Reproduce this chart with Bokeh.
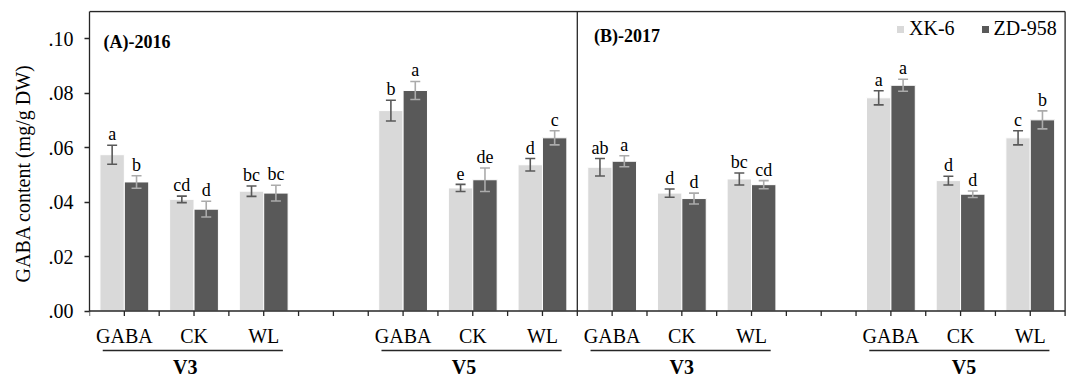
import numpy as np
from bokeh.plotting import figure
from bokeh.models import (Range1d, FixedTicker, CustomJSTickFormatter, Title,
                          Legend, LegendItem, ColumnDataSource)
from bokeh.core.properties import value
from bokeh.embed import file_html
from bokeh.resources import INLINE

# ---------------- data ----------------
years = ["(A)-2016", "(B)-2017"]
stages = ["V3", "V5"]
treatments = ["GABA", "CK", "WL"]
cultivars = ["XK-6", "ZD-958"]

# order: year -> stage -> treatment
xk6_mean = [0.0574, 0.0410, 0.0440, 0.0736, 0.0452, 0.0537,
            0.0528, 0.0433, 0.0485, 0.0783, 0.0479, 0.0636]
xk6_err = [0.0035, 0.0012, 0.0019, 0.0038, 0.0013, 0.0023,
           0.0032, 0.0015, 0.0022, 0.0026, 0.0016, 0.0026]
zd958_mean = [0.0474, 0.0374, 0.0433, 0.0810, 0.0482, 0.0636,
              0.0550, 0.0413, 0.0464, 0.0829, 0.0429, 0.0702]
zd958_err = [0.0023, 0.0029, 0.0029, 0.0033, 0.0043, 0.0026,
             0.0020, 0.0020, 0.0015, 0.0022, 0.0012, 0.0033]
xk6_letters = ["a", "cd", "bc", "b", "e", "d",
               "ab", "d", "bc", "a", "d", "c"]
zd958_letters = ["b", "d", "bc", "a", "de", "c",
                 "a", "d", "cd", "a", "d", "b"]
y_ticks = [0.00, 0.02, 0.04, 0.06, 0.08, 0.10]
y_label = "GABA content (mg/g DW)"

# ---------------- layout constants ----------------
SLOTS = 14                      # category slots per year panel
STAGE_SHIFT = 8                 # slots between stage groups
N_SLOTS = SLOTS * len(years)
W, H = 1072, 378
FR_L, FR_R, FR_T = 86, 6, 10
X_END = N_SLOTS + 0.04
Y_MAX = 0.11
Y0_PX = 310.5                   # canvas y of value 0
S = (Y0_PX - 11) / Y_MAX        # px per unit
Y_TOP = (Y0_PX - FR_T) / S
Y_MIN = -(H - Y0_PX) / S
PX_X = (W - FR_L - FR_R) / X_END
STAGE_LABEL_SHIFT = [-0.25, -0.25, 0.0, 0.1]   # small per-group nudges of V3/V5 text


def dy(px):
    return px / S


def at(canvas_y):
    return (Y0_PX - canvas_y) / S


SERIF = value("Liberation Serif")
LIGHT, DARK = "#D9D9D9", "#595959"
ERR_ON_LIGHT, ERR_ON_DARK = "#595959", "#ABABAB"
FRAME = "#262626"

centers = np.array([yi * SLOTS + si * STAGE_SHIFT + 1 + 2 * ti
                    for yi in range(len(years))
                    for si in range(len(stages))
                    for ti in range(len(treatments))], dtype=float)
group_centers = np.array([yi * SLOTS + si * STAGE_SHIFT + len(treatments)
                          for yi in range(len(years))
                          for si in range(len(stages))], dtype=float)

bw = 0.7
cap = 5 / PX_X
xk = np.array(xk6_mean)
xke = np.array(xk6_err)
zd = np.array(zd958_mean)
zde = np.array(zd958_err)

src = ColumnDataSource(dict(
    x_xk=centers - bw / 2, x_zd=centers + bw / 2,
    xk=xk, zd=zd,
    xk_lo=xk - xke, xk_hi=xk + xke, zd_lo=zd - zde, zd_hi=zd + zde,
    xk_lab=xk6_letters, zd_lab=zd958_letters,
    xk_ly=xk + xke + dy(11), zd_ly=zd + zde + dy(11),
))

p = figure(width=W, height=H, x_range=Range1d(0, X_END),
           y_range=Range1d(Y_MIN, Y_TOP), output_backend="svg",
           toolbar_location=None, x_axis_location=None, title=None,
           min_border_left=FR_L, min_border_right=FR_R,
           min_border_top=FR_T, min_border_bottom=0)
p.grid.visible = False
p.outline_line_color = None
p.background_fill_color = "white"
p.border_fill_color = "white"

ax = p.yaxis[0]
ax.ticker = FixedTicker(ticks=y_ticks)
ax.formatter = CustomJSTickFormatter(code="return tick.toFixed(2).replace(/^0/, '');")
ax.bounds = (0, Y_MAX)
ax.axis_line_color = FRAME
ax.axis_line_width = 1.3
ax.major_tick_line_color = FRAME
ax.major_tick_line_width = 1.3
ax.major_tick_out = 5
ax.major_tick_in = 0
ax.minor_tick_line_color = None
ax.major_label_text_font = "Liberation Serif"
ax.major_label_text_font_size = "20px"
ax.major_label_text_color = "#000000"
ax.major_label_standoff = 11

# y axis title (left side, placed along the value range)
p.add_layout(Title(text=y_label, align="left", offset=96,
                   vertical_align="middle", standoff=21,
                   text_font="Liberation Serif", text_font_size="20px",
                   text_font_style="normal", text_color="#000000"), "left")

# bars
r1 = p.vbar(x="x_xk", top="xk", bottom=0, width=bw, fill_color=LIGHT,
            line_color="white", line_width=1, source=src)
r2 = p.vbar(x="x_zd", top="zd", bottom=0, width=bw, fill_color=DARK,
            line_color="white", line_width=1, source=src)

# error bars
for xcol, lo, hi, col in [("x_xk", "xk_lo", "xk_hi", ERR_ON_LIGHT),
                          ("x_zd", "zd_lo", "zd_hi", ERR_ON_DARK)]:
    xs = np.array(src.data[xcol])
    los = np.array(src.data[lo])
    his = np.array(src.data[hi])
    p.segment(x0=xs, y0=los, x1=xs, y1=his, line_color=col, line_width=1.6)
    p.segment(x0=xs - cap, y0=los, x1=xs + cap, y1=los, line_color=col, line_width=1.6)
    p.segment(x0=xs - cap, y0=his, x1=xs + cap, y1=his, line_color=col, line_width=1.6)

# significance letters
for xcol, ycol, tcol in [("x_xk", "xk_ly", "xk_lab"), ("x_zd", "zd_ly", "zd_lab")]:
    p.text(x=xcol, y=ycol, text=tcol, source=src, text_font=SERIF,
           text_font_size="18px", text_align="center",
           text_baseline="alphabetic", text_color="#000000")

# frame: top, right, panel divider, x-axis line
p.segment(x0=[0, N_SLOTS, SLOTS, 0], y0=[Y_MAX, 0, 0, 0],
          x1=[N_SLOTS, N_SLOTS, SLOTS, N_SLOTS], y1=[Y_MAX, Y_MAX, Y_MAX, 0],
          line_color=FRAME, line_width=1.3)
# x tick marks
tx = np.arange(0, N_SLOTS + 1)
p.segment(x0=tx, y0=np.zeros(len(tx)), x1=tx,
          y1=np.full(len(tx), -dy(5)), line_color=FRAME, line_width=1.3)

# category labels
p.text(x=centers, y=np.full(len(centers), at(335)),
       text=treatments * (len(years) * len(stages)), text_font=SERIF,
       text_font_size="20px", text_align="center", text_baseline="middle",
       text_color="#000000")
# group underlines + stage labels
p.segment(x0=group_centers - 2.62, y0=np.full(len(group_centers), at(350)),
          x1=group_centers + 2.55, y1=np.full(len(group_centers), at(350)),
          line_color=FRAME, line_width=1.3)
p.text(x=group_centers + np.array(STAGE_LABEL_SHIFT),
       y=np.full(len(group_centers), at(366)),
       text=stages * len(years), text_font=SERIF, text_font_style="bold",
       text_font_size="20px", text_align="center", text_baseline="middle",
       text_color="#000000")

# panel titles
p.text(x=[0.40, SLOTS + 0.48], y=[at(41.7), at(35)], text=years,
       text_font=SERIF, text_font_style="bold", text_font_size="18px",
       text_align="left", text_baseline="alphabetic", text_color="#000000")

legend = Legend(items=[LegendItem(label=cultivars[0], renderers=[r1]),
                       LegendItem(label=cultivars[1], renderers=[r2])],
                location=(806, 338), orientation="horizontal",
                glyph_width=10, glyph_height=10, label_standoff=4,
                spacing=25, padding=0, margin=0,
                border_line_color=None, background_fill_alpha=0,
                label_text_font="Liberation Serif",
                label_text_font_size="20px", label_text_color="#000000")
p.add_layout(legend)

open("out.html", "w").write(file_html(p, INLINE))
